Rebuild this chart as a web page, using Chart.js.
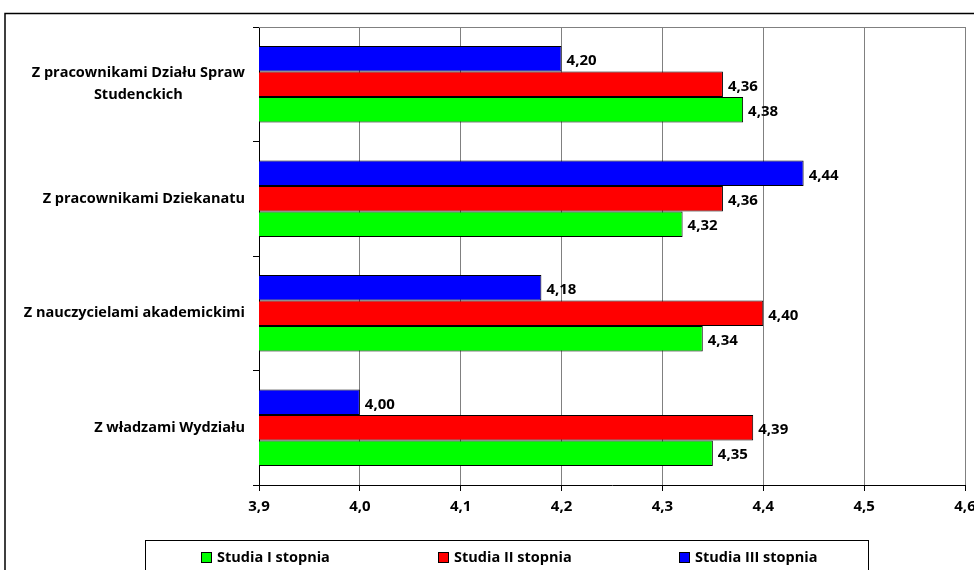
<!DOCTYPE html>
<html>
<head>
<meta charset="utf-8">
<script src="https://cdn.jsdelivr.net/npm/chart.js@4/dist/chart.umd.min.js"></script>
<style>
  html, body { margin: 0; padding: 0; background: #fff; }
  #wrap { width: 974px; height: 570px; }
</style>
</head>
<body>
<div id="wrap"><canvas id="chart" width="974" height="570"></canvas></div>
<script>
// dane z wykresu
const categories = [
  ["Z pracownikami Działu Spraw", "Studenckich"],
  "Z pracownikami Dziekanatu",
  "Z nauczycielami akademickimi",
  "Z władzami Wydziału",
];
const seriesNames = ["Studia I stopnia", "Studia II stopnia", "Studia III stopnia"];
const studiaI = [4.38, 4.32, 4.34, 4.35];
const studiaII = [4.36, 4.36, 4.40, 4.39];
const studiaIII = [4.20, 4.44, 4.18, 4.00];
const xTicks = [3.9, 4.0, 4.1, 4.2, 4.3, 4.4, 4.5, 4.6];

const FONT = "'Open Sans', Lato, sans-serif";
const fmt = (v, d) => v.toFixed(d).replace(".", ",");

// ramka, etykiety osi Y, wartosci i legenda
const extras = {
  id: "extras",
  beforeDatasetsDraw(chart) {
    const { ctx, chartArea } = chart;
    ctx.save();
    ctx.strokeStyle = "#808080";
    ctx.lineWidth = 1;
    ctx.beginPath();
    ctx.moveTo(chartArea.left, chartArea.top + 0.5);
    ctx.lineTo(chartArea.right, chartArea.top + 0.5);
    ctx.stroke();
    ctx.restore();
  },
  afterDraw(chart) {
    const { ctx } = chart;
    const yScale = chart.scales.y;
    ctx.save();

    // zewnetrzna ramka
    ctx.strokeStyle = "#000";
    ctx.lineWidth = 1.5;
    ctx.beginPath();
    ctx.moveTo(5, 600);
    ctx.lineTo(5, 13.5);
    ctx.lineTo(980, 13.5);
    ctx.stroke();

    // etykiety kategorii
    ctx.fillStyle = "#000";
    ctx.font = "bold 14.5px " + FONT;
    ctx.textBaseline = "middle";
    ctx.textAlign = "center";
    categories.forEach((label, i) => {
      const lines = Array.isArray(label) ? label : [label];
      const maxW = Math.max(...lines.map((l) => ctx.measureText(l).width));
      const cy = yScale.getPixelForValue(i);
      const lh = 22;
      const cx = 245 - maxW / 2;
      lines.forEach((l, j) => {
        ctx.fillText(l, cx, cy - ((lines.length - 1) * lh) / 2 + j * lh);
      });
    });

    // wartosci przy slupkach
    ctx.font = "bold 15px " + FONT;
    ctx.textAlign = "left";
    chart.data.datasets.forEach((ds, di) => {
      const meta = chart.getDatasetMeta(di);
      meta.data.forEach((bar, i) => {
        ctx.fillText(fmt(ds.data[i], 2), bar.x + 5, bar.y + 2);
      });
    });

    // legenda
    ctx.font = "bold 14.5px " + FONT;
    ctx.strokeStyle = "#000";
    ctx.lineWidth = 1;
    ctx.strokeRect(145.5, 540.5, 723, 60);
    const legendX = [201, 438, 679];
    const order = [2, 1, 0];
    order.forEach((di, k) => {
      const ds = chart.data.datasets[di];
      const x = legendX[k];
      ctx.fillStyle = ds.backgroundColor;
      ctx.fillRect(x + 0.5, 552.5, 10, 10);
      ctx.strokeRect(x + 0.5, 552.5, 10, 10);
      ctx.fillStyle = "#000";
      ctx.fillText(ds.label, x + 16, 558);
    });
    ctx.restore();
  },
};

const ctx = document.getElementById("chart").getContext("2d");
new Chart(ctx, {
  type: "bar",
  data: {
    labels: categories,
    datasets: [
      {
        label: seriesNames[2],
        data: studiaIII,
        backgroundColor: "#0000FF",
        borderColor: "#000",
        borderWidth: 1,
      },
      {
        label: seriesNames[1],
        data: studiaII,
        backgroundColor: "#FF0000",
        borderColor: "#000",
        borderWidth: 1,
      },
      {
        label: seriesNames[0],
        data: studiaI,
        backgroundColor: "#00FF00",
        borderColor: "#000",
        borderWidth: 1,
      },
    ],
  },
  options: {
    indexAxis: "y",
    responsive: false,
    animation: false,
    categoryPercentage: 0.667,
    barPercentage: 1,
    layout: { padding: { left: 0, top: 27, right: 9, bottom: 55 } },
    plugins: {
      legend: { display: false },
      tooltip: { enabled: false },
    },
    scales: {
      x: {
        min: 3.9,
        max: 4.6,
        afterBuildTicks: (s) => {
          s.ticks = xTicks.map((v) => ({ value: v }));
        },
        afterFit: (s) => {
          s.height = 30;
          s.paddingLeft = 0;
          s.paddingRight = 0;
        },
        ticks: {
          maxRotation: 0,
          autoSkip: false,
          padding: 7,
          color: "#000",
          font: { family: FONT, size: 15, weight: "bold" },
          callback: (v) => fmt(v, 1),
        },
        grid: { color: "#808080", tickColor: "#000", tickLength: 6 },
        border: { color: "#000", width: 1 },
      },
      y: {
        afterFit: (s) => {
          s.width = 259;
        },
        ticks: { display: false },
        grid: {
          drawOnChartArea: false,
          tickColor: "#000",
          tickLength: 6,
        },
        border: { color: "#000", width: 1 },
      },
    },
  },
  plugins: [extras],
});
</script>
</body>
</html>
